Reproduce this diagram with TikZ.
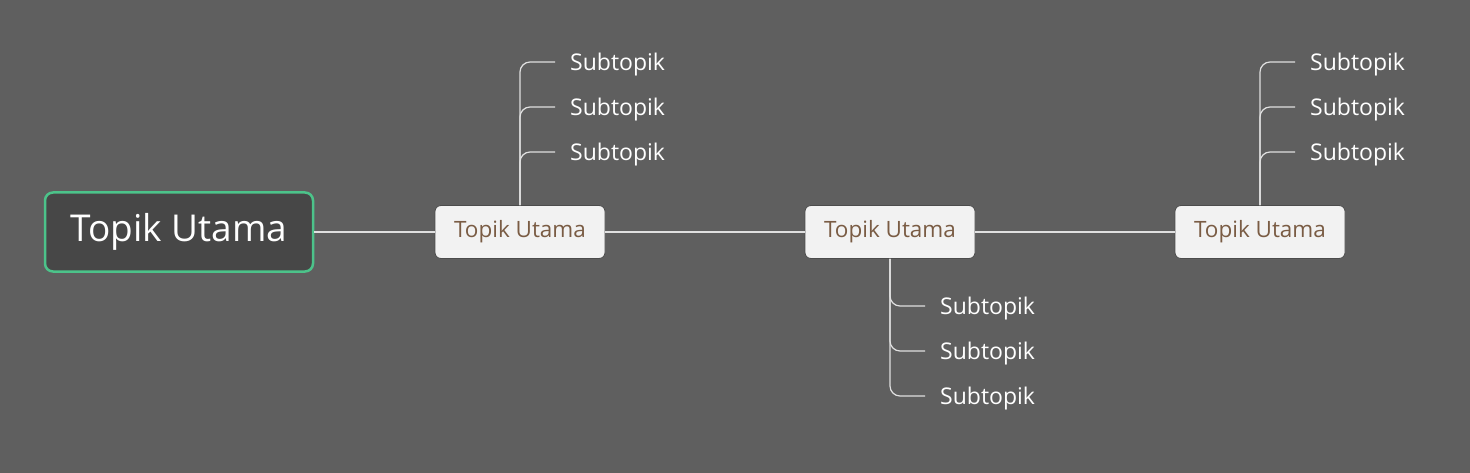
\documentclass[tikz,border=0pt]{standalone}
\usepackage{fontspec}
\setmainfont{Open Sans}
\definecolor{bg}{HTML}{5F5F5F}
\definecolor{maindark}{HTML}{474747}
\definecolor{mgreen}{HTML}{4CC38A}
\definecolor{tbrown}{HTML}{7A5C44}
\definecolor{lgray}{HTML}{F2F2F2}
\definecolor{ln}{HTML}{E0E0E0}
\begin{document}
\begin{tikzpicture}[x=1pt,y=-1pt,
  mainbox/.style={draw=mgreen,line width=2.5pt,fill=maindark,rounded corners=8pt,minimum width=268pt,minimum height=79pt,text=white,font=\fontsize{37}{42}\selectfont},
  topicbox/.style={draw=black!70,line width=0.8pt,fill=lgray,rounded corners=6pt,minimum width=170pt,minimum height=53pt,text=tbrown,font=\fontsize{22.5}{26}\selectfont},
  subt/.style={anchor=west,inner sep=0pt,text=white,font=\fontsize{23}{26}\selectfont},
  conn/.style={draw=ln,line width=1.2pt},
  br/.style={conn,rounded corners=10pt}]
\fill[bg] (0,0) rectangle (1470,473);
\useasboundingbox (0,0) rectangle (1470,473);
\node[mainbox] (m) at (179,232) {Topik Utama};
\node[topicbox] (t1) at (520,232) {Topik Utama};
\node[topicbox] (t2) at (890,232) {Topik Utama};
\node[topicbox] (t3) at (1260,232) {Topik Utama};
\draw[conn] (m) -- (t1);
\draw[conn] (t1) -- (t2);
\draw[conn] (t2) -- (t3);
\foreach \y [count=\i] in {62,107,152}{
  \node[subt] (a\i) at (570,\y+3) {Subtopik};
  \draw[br] (t1.north) |- ([xshift=-15pt,yshift=3pt]a\i.west);
  \node[subt] (c\i) at (1310,\y+3) {Subtopik};
  \draw[br] (t3.north) |- ([xshift=-15pt,yshift=3pt]c\i.west);
}
\foreach \y [count=\i] in {306,351,396}{
  \node[subt] (b\i) at (940,\y+3) {Subtopik};
  \draw[br] (t2.south) |- ([xshift=-15pt,yshift=3pt]b\i.west);
}
\end{tikzpicture}
\end{document}
